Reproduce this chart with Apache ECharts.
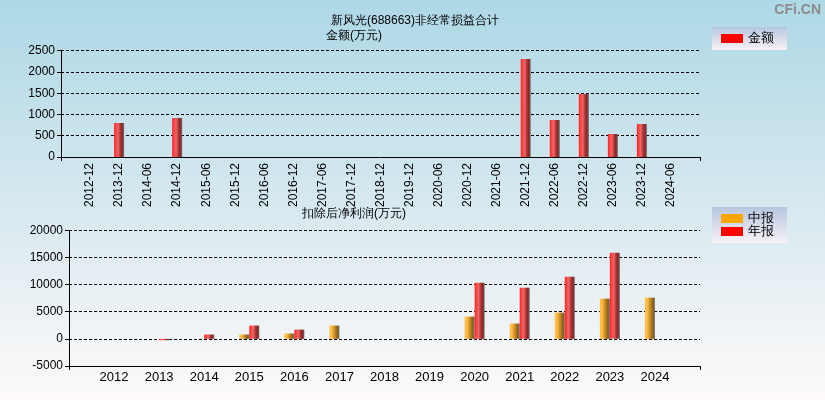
<!DOCTYPE html>
<html lang="zh">
<head>
<meta charset="utf-8" />
<title>新风光(688663)非经常损益合计</title>
<script src="https://cdn.jsdelivr.net/npm/echarts@6/dist/echarts.min.js"></script>
<style>
  * { margin: 0; padding: 0; }
  body { width: 825px; height: 400px; }
  #main {
    width: 825px;
    height: 400px;
    background: linear-gradient(to bottom, #add8e6 0%, #d6e8ef 50%, #fefafa 100%);
  }
</style>
</head>
<body>
<div id="main"></div>
<script>
// top chart: 非经常损益合计 (万元)
const periods = ["2012-12", "2013-12", "2014-06", "2014-12", "2015-06", "2015-12", "2016-06",
  "2016-12", "2017-06", "2017-12", "2018-12", "2019-12", "2020-06", "2020-12", "2021-06",
  "2021-12", "2022-06", "2022-12", "2023-06", "2023-12", "2024-06"];
const amount = [null, 800, null, 917, null, null, null,
  null, null, null, null, null, null, null, null,
  2304, 870, 1481, 541, 776, null];

// bottom chart: 扣除后净利润 (万元)
const years = ["2012", "2013", "2014", "2015", "2016", "2017", "2018",
  "2019", "2020", "2021", "2022", "2023", "2024"];
const midReport = [null, null, null, 800, 980, 2450, null, null, 4100, 2815, 4835, 7405, 7590];
const annualReport = [null, -250, 800, 2450, 1710, null, null, null, 10340, 9425, 11445, 15850, null];

const topTicks = { min: 0, max: 2500, interval: 500 };
const bottomTicks = { min: -5000, max: 20000, interval: 5000 };

// pad each category axis with an empty slot at both ends
const pad = (arr) => [""].concat(arr, [""]);
const padVal = (arr) => [null].concat(arr, [null]);

const font = "Liberation Sans, Arial, sans-serif";

function barGradient(stops) {
  return new echarts.graphic.LinearGradient(0, 0, 1, 0,
    stops.map((c, i) => ({ offset: i / (stops.length - 1), color: c })));
}
const redFill = barGradient(["#ff2020", "#ff4848", "#e86868", "#b83838", "#8a2424", "#707070"]);
const orangeFill = barGradient(["#ffbe3a", "#ffc050", "#e0a030", "#b88020", "#8a6418", "#707070"]);

const chart = echarts.init(document.getElementById("main"), null, { renderer: "canvas" });

function yAxis(gridIndex, t) {
  return {
    type: "value",
    gridIndex: gridIndex,
    min: t.min,
    max: t.max,
    interval: t.interval,
    axisLine: { show: true, lineStyle: { color: "#000", width: 1 } },
    axisTick: { show: true, length: 4, lineStyle: { color: "#000" } },
    axisLabel: {
      color: "#000", fontSize: 12, fontFamily: font, margin: 6,
      formatter: (v) => String(v)
    },
    splitLine: { show: true, lineStyle: { color: "#000", type: [3, 2], width: 1 } }
  };
}

const legendBg = () => new echarts.graphic.LinearGradient(0, 0, 0, 1, [
  { offset: 0, color: "#b6c6e0" }, { offset: 1, color: "#f8f2f6" }]);

const option = {
  backgroundColor: "transparent",
  animation: false,
  textStyle: { fontFamily: font },
  title: [
    {
      text: "新风光(688663)非经常损益合计",
      left: 410, top: 10, textAlign: "center",
      textStyle: { fontSize: 12, fontWeight: "normal", color: "#000", fontFamily: font }
    },
    {
      text: "金额(万元)",
      left: 321, top: 25,
      textStyle: { fontSize: 12, fontWeight: "normal", color: "#000", fontFamily: font }
    },
    {
      text: "扣除后净利润(万元)",
      left: 297, top: 203,
      textStyle: { fontSize: 12, fontWeight: "normal", color: "#000", fontFamily: font }
    }
  ],
  graphic: [
    {
      type: "text", right: 4, top: 3,
      style: { text: "CFi.CN", fill: "#8c8c8c", font: "bold 14px " + font }
    }
  ],
  legend: [
    {
      data: [{ name: "金额", itemStyle: { color: "#ff0000" } }],
      left: 712, top: 27,
      padding: [5, 13, 5, 9],
      itemWidth: 22, itemHeight: 9, itemGap: 4,
      icon: "rect",
      textStyle: { fontSize: 13, color: "#000", fontFamily: font },
      backgroundColor: legendBg()
    },
    {
      data: [
        { name: "中报", itemStyle: { color: "#ffa500" } },
        { name: "年报", itemStyle: { color: "#ff0000" } }
      ],
      orient: "vertical",
      left: 712, top: 207,
      padding: [5, 13, 5, 9],
      itemWidth: 22, itemHeight: 9, itemGap: 0,
      icon: "rect",
      textStyle: { fontSize: 13, color: "#000", fontFamily: font },
      backgroundColor: legendBg()
    }
  ],
  grid: [
    { left: 61, right: 125, top: 50.7, bottom: 243 },
    { left: 69, right: 125, top: 230.3, bottom: 34 }
  ],
  xAxis: [
    {
      type: "category",
      gridIndex: 0,
      data: pad(periods),
      boundaryGap: false,
      axisLine: { show: true, onZero: false, lineStyle: { color: "#000", width: 1 } },
      axisTick: {
        show: true, length: 4, lineStyle: { color: "#000" },
        interval: (i) => i === 0 || i === periods.length + 1
      },
      axisLabel: { interval: 0, rotate: 90, color: "#000", fontSize: 12, fontFamily: font, margin: 6 },
      splitLine: { show: false }
    },
    {
      type: "category",
      gridIndex: 1,
      data: pad(years),
      boundaryGap: false,
      axisLine: { show: true, onZero: false, lineStyle: { color: "#000", width: 1 } },
      axisTick: {
        show: true, length: 4, lineStyle: { color: "#000" },
        interval: (i) => i === 0 || i === years.length + 1
      },
      axisLabel: { interval: 0, color: "#000", fontSize: 13, fontFamily: font, margin: 5 },
      splitLine: { show: false }
    }
  ],
  yAxis: [yAxis(0, topTicks), yAxis(1, bottomTicks)],
  series: [
    {
      name: "金额",
      type: "bar",
      xAxisIndex: 0, yAxisIndex: 0,
      data: padVal(amount),
      barWidth: 10,
      itemStyle: { color: redFill }
    },
    {
      name: "中报",
      type: "bar",
      xAxisIndex: 1, yAxisIndex: 1,
      data: padVal(midReport),
      barWidth: 10,
      barGap: "0%",
      itemStyle: { color: orangeFill }
    },
    {
      name: "年报",
      type: "bar",
      xAxisIndex: 1, yAxisIndex: 1,
      data: padVal(annualReport),
      barWidth: 10,
      barGap: "0%",
      itemStyle: { color: redFill }
    }
  ]
};

chart.setOption(option);
</script>
</body>
</html>
